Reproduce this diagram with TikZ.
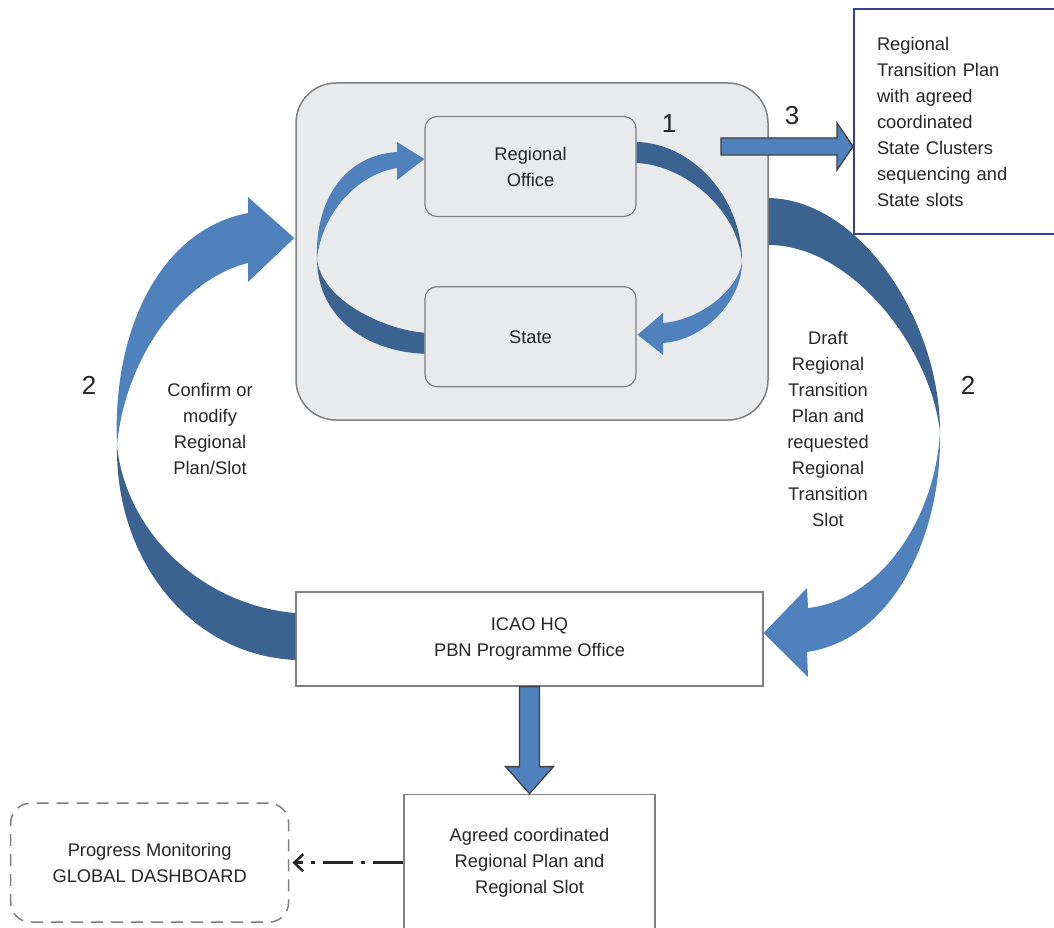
\documentclass[tikz,border=0pt]{standalone}
\usepackage{fontspec}
\setmainfont{Liberation Sans}
\usetikzlibrary{arrows.meta,positioning,calc}
\definecolor{pbnlight}{RGB}{79,129,189}
\definecolor{pbndark}{RGB}{60,98,146}
\definecolor{pbngrey}{RGB}{233,234,236}
\definecolor{pbnedge}{RGB}{128,128,128}
\definecolor{pbnnavy}{RGB}{62,62,150}
\definecolor{pbnink}{RGB}{38,38,38}
\newcommand{\pbnfont}{\fontsize{18.3}{26}\selectfont}
\newcommand{\pbnbig}{\fontsize{26}{30}\selectfont}
\tikzset{
  pbnpanel/.style={draw=pbnedge, line width=1.5pt, fill=pbngrey, rounded corners=40pt, minimum width=472pt, minimum height=337pt},
  pbnblock/.style={draw=pbnedge, line width=1.2pt, fill=pbngrey, rounded corners=12pt, minimum width=211pt, minimum height=100pt, align=center, font=\pbnfont, text=pbnink},
  pbnbox/.style={draw=pbnedge, line width=1.2pt, fill=white, align=center, font=\pbnfont, text=pbnink},
  pbnplan/.style={draw=pbnnavy, line width=2pt, fill=white, align=left, font=\pbnfont, text=pbnink},
  pbnnote/.style={draw=pbnedge, line width=1.5pt, dash pattern=on 12pt off 8pt, rounded corners=20pt, align=center, font=\pbnfont, text=pbnink},
  pbnlabel/.style={align=center, font=\pbnfont, text=pbnink},
  pbnnum/.style={font=\pbnbig, text=pbnink},
  pbnface/.style={fill=pbnlight},
  pbnback/.style={fill=pbndark},
  pbnflat/.style={draw=black!75, line width=1.3pt, fill=pbnlight, line join=miter},
  pbnlink/.style={-{Straight Barb[length=9pt,width=17pt]}, line width=2.5pt, draw=black!85, dash pattern=on 30pt off 8pt on 4pt off 8pt, shorten >=3pt}
}

\begin{document}
\begin{tikzpicture}[x=1pt, y=-1pt]
\useasboundingbox (0,0) rectangle (1054,928);
\clip (0,0) rectangle (1054,928);
\node[pbnpanel] (panel) at (532,251.5) {};
\node[pbnblock] (office) at (530.5,166.5) {Regional\\Office};
\node[pbnblock, below=69pt of office] (state) {State};
\node[pbnbox, minimum width=467pt, minimum height=94pt] (hq) at (529.5,639) {ICAO HQ\\PBN Programme Office};
\node[pbnbox, minimum width=251pt, minimum height=137pt, below=107pt of hq] (agreed) {Agreed coordinated\\Regional Plan and\\Regional Slot};
\node[pbnnote, minimum width=278pt, minimum height=119pt, left=114pt of agreed] (dashboard) {Progress Monitoring\\GLOBAL DASHBOARD};
\node[pbnplan, anchor=north west, minimum width=230pt, minimum height=225pt, text width=184pt, inner xsep=0pt] (plan) at (853,8) {Regional\\Transition Plan\\with agreed\\coordinated\\State Clusters\\sequencing and\\State slots};

% where the ribbons turn over
\coordinate (x1) at (317,258);
\coordinate (x2) at (742,262);
\coordinate (x3) at (117,445);
\coordinate (x4) at (940,432);

% state -> office
\fill[pbnback] ($(state.west)+(0,-4)$) .. controls (385,330) and (320,300) .. (x1) .. controls (317,320) and (370,352) .. ($(state.west)+(0,17)$) -- cycle;
\fill[pbnface] (x1) .. controls (315,200) and (345,155) .. (397,152) -- (397,142) -- ($(office.west)+(0,-7.5)$) -- (397,180) -- (397,168) .. controls (355,175) and (322,215) .. (x1) -- cycle;
% office -> state
\fill[pbnback] ($(office.east)+(0,-24.5)$) .. controls (690,143) and (742,195) .. (x2) .. controls (738,210) and (685,165) .. ($(office.east)+(0,-3.5)$) -- cycle;
\fill[pbnface] (x2) .. controls (742,300) and (705,340) .. (663,343) -- (663,355) -- ($(state.east)+(1,-2)$) -- (663,313) -- (663,323) .. controls (700,320) and (738,290) .. (x2) -- cycle;
% hq -> panel
\fill[pbnback] ($(hq.west)+(0,-26)$) .. controls (200,605) and (125,530) .. (x3) .. controls (115,560) and (190,655) .. ($(hq.west)+(0,21)$) -- cycle;
\fill[pbnface] (x3) .. controls (112,330) and (160,230) .. (248,213) -- (248,197) -- ($(panel.west)+(-1,-13.5)$) -- (248,282) -- (248,263) .. controls (180,280) and (125,360) .. (x3) -- cycle;
% panel -> hq
\fill[pbnback] ($(panel.east)+(0,-53.5)$) .. controls (860,200) and (940,320) .. (x4) .. controls (930,345) and (850,245) .. ($(panel.east)+(0,-6.5)$) -- cycle;
\fill[pbnface] (x4) .. controls (942,540) and (890,640) .. (807,652) -- (808,677) -- ($(hq.east)+(0,-6)$) -- (807,588) -- (808,608) .. controls (880,600) and (935,520) .. (x4) -- cycle;

\coordinate (t3) at (721,146.5);
\draw[pbnflat] (t3) ++(0,-8.5) -- ++(116,0) -- ++(0,-15) -- (plan.west |- t3) -- ++(-16,23.5) -- ++(0,-15) -- ++(-116,0) -- cycle;
\draw[pbnflat] (hq.south) ++(-10,0) -- ++(0,80) -- ++(-14,0) -- (agreed.north) -- ++(24,-27) -- ++(-14,0) -- ++(0,-80) -- cycle;
\draw[pbnlink] (agreed.west) -- (dashboard.east);

\node[pbnnum] (n1) at (669,124) {1};
\node[pbnnum] (n3) at (792,116) {3};
\node[pbnnum] (n2l) at (89,385) {2};
\node[pbnnum] (n2r) at (968,385) {2};
\node[pbnlabel] (confirm) at (210,428.5) {Confirm or\\modify\\Regional\\Plan/Slot};
\node[pbnlabel] (draft) at (828,429) {Draft\\Regional\\Transition\\Plan and\\requested\\Regional\\Transition\\Slot};
\end{tikzpicture}
\end{document}
